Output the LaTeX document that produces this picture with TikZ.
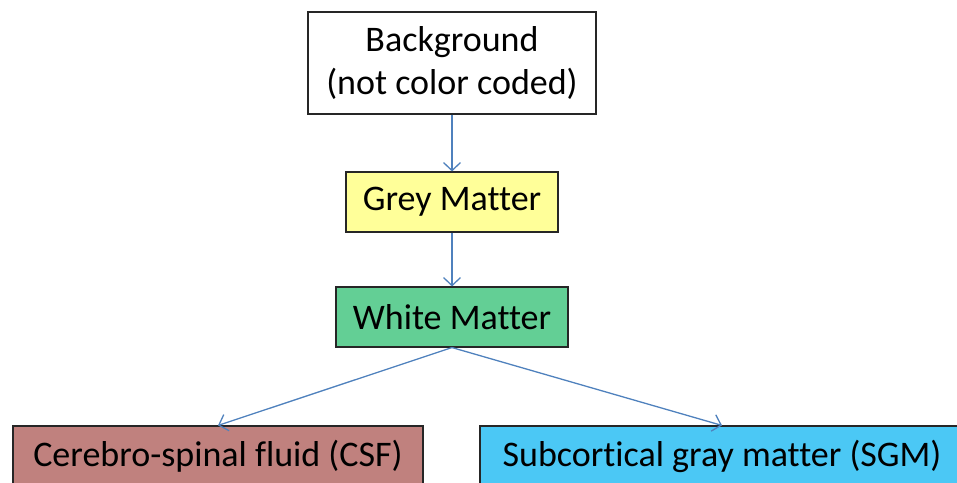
\documentclass[tikz,border=0pt]{standalone}
\usepackage{fontspec}
\setmainfont{Carlito}[Ligatures=NoCommon]
\usetikzlibrary{arrows.meta}
\definecolor{linkblue}{RGB}{79,129,189}
\definecolor{greyfill}{RGB}{255,255,153}
\definecolor{whitefill}{RGB}{99,207,149}
\definecolor{csffill}{RGB}{192,129,126}
\definecolor{sgmfill}{RGB}{75,200,245}

\begin{document}
\begin{tikzpicture}[x=1pt, y=1pt, node distance=139pt,
  box/.style = {draw=black!85, line width=1.1pt, inner sep=0pt, minimum height=60pt, align=center, font=\fontsize{36}{43}\selectfont},
  link/.style = {draw=linkblue, line width=1.3pt, -{Straight Barb[length=8pt, width=17pt]}}]
\useasboundingbox (0,0) rectangle (957,-482);
\clip (0,0) rectangle (957,-482);
\node[box, minimum width=288pt, minimum height=102pt] (bg) at (452,-63) {Background\\(not color coded)};
\node[box, fill=greyfill, minimum width=212pt] (gm) [below of = bg] {Grey Matter};
\node[box, fill=whitefill, minimum width=232pt, node distance=115pt] (wm) [below of = gm] {White Matter};
\node[box, fill=csffill, minimum width=410pt] (csf) at (218,-456) {Cerebro-spinal fluid (CSF)};
\node[box, fill=sgmfill, minimum width=484pt] (sgm) at (722,-456) {Subcortical gray matter (SGM)};
\draw[link] (bg) -- (gm);
\draw[link] (gm) -- (wm);
\draw[link] (wm.south) -- (csf.north);
\draw[link] (wm.south) -- (sgm.north);
\end{tikzpicture}
\end{document}
